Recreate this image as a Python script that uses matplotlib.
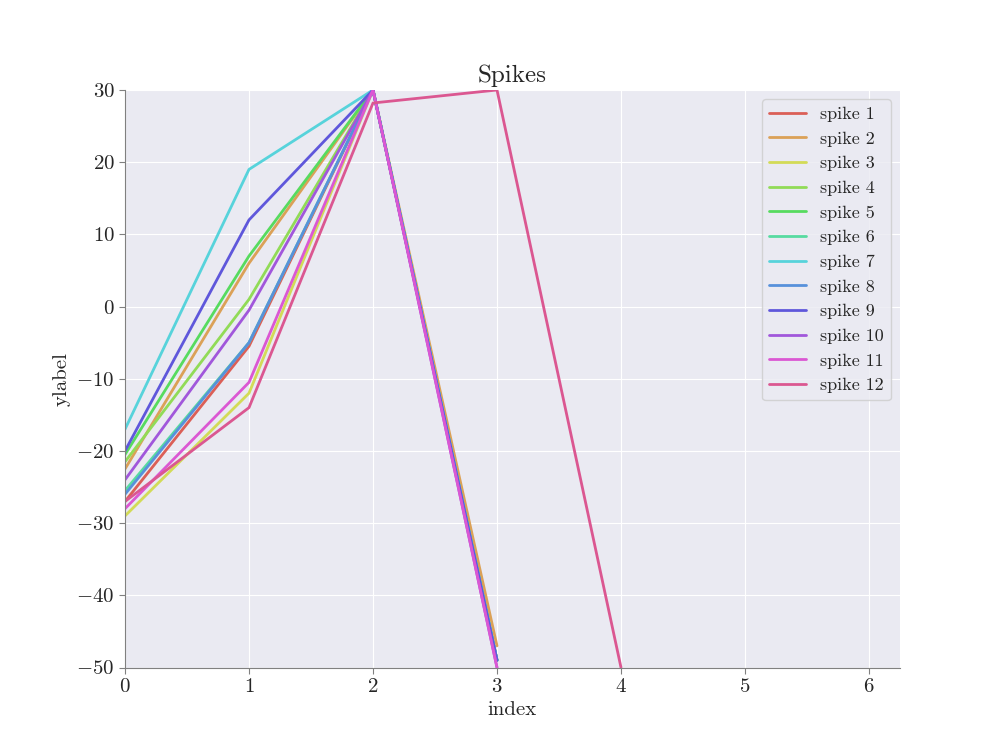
import numpy as np
import matplotlib
matplotlib.use("Agg")
import matplotlib.pyplot as plt
import seaborn as sns

sns.set_style("darkgrid")
plt.rcParams['font.family'] = ['cmr10', 'DejaVu Serif']
plt.rcParams['mathtext.fontset'] = 'cm'
plt.rcParams['axes.formatter.use_mathtext'] = True

labels = ["spike %d" % i for i in range(1, 13)]
spike_values = [
    [-27.0, -5.5, 30, -49],
    [-22.5, 6.0, 30, -47],
    [-29.0, -12.0, 30, -49],
    [-21.5, 1.0, 30, -49],
    [-20.5, 7.0, 30, -49],
    [-25.5, -5.0, 30, -49],
    [-17.0, 19.0, 30, -49],
    [-26.0, -5.0, 30, -49],
    [-20.0, 12.0, 30, -49],
    [-24.0, -0.5, 30, -50],
    [-28.0, -10.5, 30, -50],
    [-27.0, -14.0, 28.2, 30, -50],
]

colors = sns.color_palette("hls", 12)
fig, ax = plt.subplots(figsize=(10, 7.5))
for lab, vals, c in zip(labels, spike_values, colors):
    ax.plot(np.arange(len(vals)), vals, color=c, lw=2, label=lab)

ax.set_xlim(0, 6.25)
ax.set_ylim(-50, 30)
ax.set_title("Spikes", fontsize=18)
ax.set_xlabel("index", fontsize=15)
ax.set_ylabel("ylabel", fontsize=15)
ax.tick_params(labelsize=15, direction='out', length=4, color='gray')
ax.tick_params(axis='x', bottom=True)
ax.tick_params(axis='y', left=True)
for s in ['top', 'right']:
    ax.spines[s].set_visible(False)
for s in ['left', 'bottom']:
    ax.spines[s].set_visible(True)
    ax.spines[s].set_color('gray')
leg = ax.legend(loc='upper right', fontsize=13, frameon=True)
leg.get_frame().set_facecolor('#eaeaf2')
leg.get_frame().set_edgecolor('#cccccc')
fig.savefig("out.png", dpi=100)
